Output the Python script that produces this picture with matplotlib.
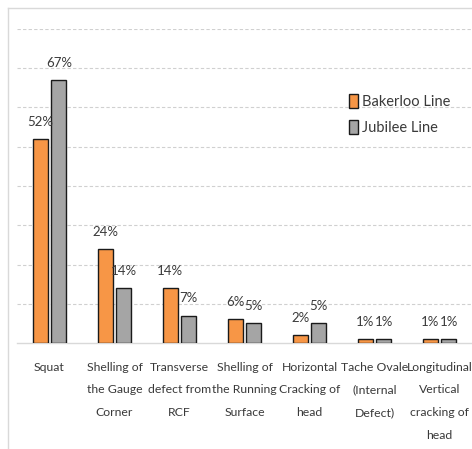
from matplotlib import pyplot as plt
from matplotlib.lines import Line2D
import numpy as np

# data
categories = ['Squat', 'Shelling of\nthe Gauge\nCorner', 'Transverse\ndefect from\nRCF',
              'Shelling of\nthe Running\nSurface', 'Horizontal\nCracking of\nhead',
              'Tache Ovale\n(Internal\nDefect)', 'Longitudinal\nVertical\ncracking of\nhead']
bakerloo = [52, 24, 14, 6, 2, 1, 1]
jubilee = [67, 14, 7, 5, 5, 1, 1]

plt.rcParams['font.family'] = ['Lato', 'DejaVu Sans']
text_color = '#3a3a3a'

fig = plt.figure(figsize=(4.72, 4.49), dpi=100)
ax = fig.add_axes([17 / 472, 1 - 343 / 449, 1 - 17 / 472, (343 - 29) / 449])

x = np.arange(len(categories))
w = 0.235
gap = 0.025
ax.bar(x - w / 2 - gap, bakerloo, w, color='#F79646', edgecolor='#1a1a1a',
       linewidth=1.0, label='Bakerloo Line', zorder=3)
ax.bar(x + w / 2 + gap, jubilee, w, color='#A5A5A5', edgecolor='#1a1a1a',
       linewidth=1.0, label='Jubilee Line', zorder=3)

# value labels above the bars
for i in range(len(categories)):
    ax.annotate(f'{bakerloo[i]}%', (x[i] - w / 2 - gap, bakerloo[i]), xytext=(0, 8),
                textcoords='offset points', ha='center', va='bottom',
                fontsize=9.5, color=text_color)
    ax.annotate(f'{jubilee[i]}%', (x[i] + w / 2 + gap, jubilee[i]), xytext=(0, 8),
                textcoords='offset points', ha='center', va='bottom',
                fontsize=9.5, color=text_color)

ax.set_xlim(-0.5, len(categories) - 0.5)
ax.set_ylim(0, 80)
ax.set_yticks(np.arange(10, 81, 10))
ax.yaxis.grid(True, linestyle=(0, (3, 2)), color='#D0D0D0', linewidth=0.8, zorder=0)
ax.tick_params(axis='y', left=False, labelleft=False)
ax.set_xticks(x)
ax.set_xticklabels(categories, fontsize=8.8, color=text_color, linespacing=2.3)
ax.tick_params(axis='x', length=0, pad=13.5)
for s in ['top', 'right', 'left']:
    ax.spines[s].set_visible(False)
ax.spines['bottom'].set_color('#D9D9D9')
ax.spines['bottom'].set_linewidth(1.0)

leg = ax.legend(loc='upper left', bbox_to_anchor=(0.717, 0.81), frameon=False,
                fontsize=10.5, handlelength=0.6, handleheight=1.1, handletextpad=0.3,
                labelspacing=0.75, borderaxespad=0)
for t in leg.get_texts():
    t.set_color(text_color)

# outer chart border (left and top visible)
fig.add_artist(Line2D([8 / 472, 8 / 472], [0, 1 - 8 / 449], color='#D9D9D9', linewidth=1.0))
fig.add_artist(Line2D([8 / 472, 1], [1 - 8 / 449, 1 - 8 / 449], color='#D9D9D9', linewidth=1.0))

fig.savefig('out.png', dpi=100)
